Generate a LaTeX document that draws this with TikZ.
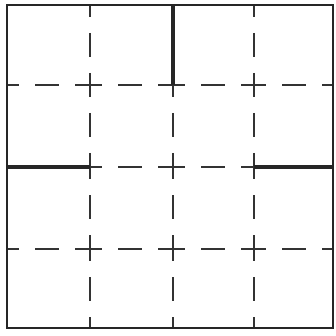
\documentclass[tikz,border=0pt]{standalone}
\usepackage{tikz}

\begin{document}
\begin{tikzpicture}[
    x=1pt, y=-1pt,
    border/.style={draw=black!85, line width=2.6pt},
    gridline/.style={draw=black!80, line width=2.2pt, dash pattern=on 24pt off 16pt, dash phase=12pt},
    wall/.style={draw=black!85, line width=4pt}
]
\useasboundingbox (0,0) rectangle (335,336);

% Dashed grid lines, drawn cell by cell
\foreach \x in {90,173,254} {
    \foreach \ya/\yb in {5/85,85/167,167/249,249/328}
        \draw[gridline] (\x,\ya) -- (\x,\yb);
}
\foreach \y in {85,167,249} {
    \foreach \xa/\xb in {7/90,90/173,173/254,254/333}
        \draw[gridline] (\xa,\y) -- (\xb,\y);
}

% Outer frame
\draw[border] (7,5) rectangle (333,328);

% Thick walls
\draw[wall] (173,5) -- (173,85);
\draw[wall] (7,167) -- (90,167);
\draw[wall] (254,167) -- (333,167);

\end{tikzpicture}
\end{document}
